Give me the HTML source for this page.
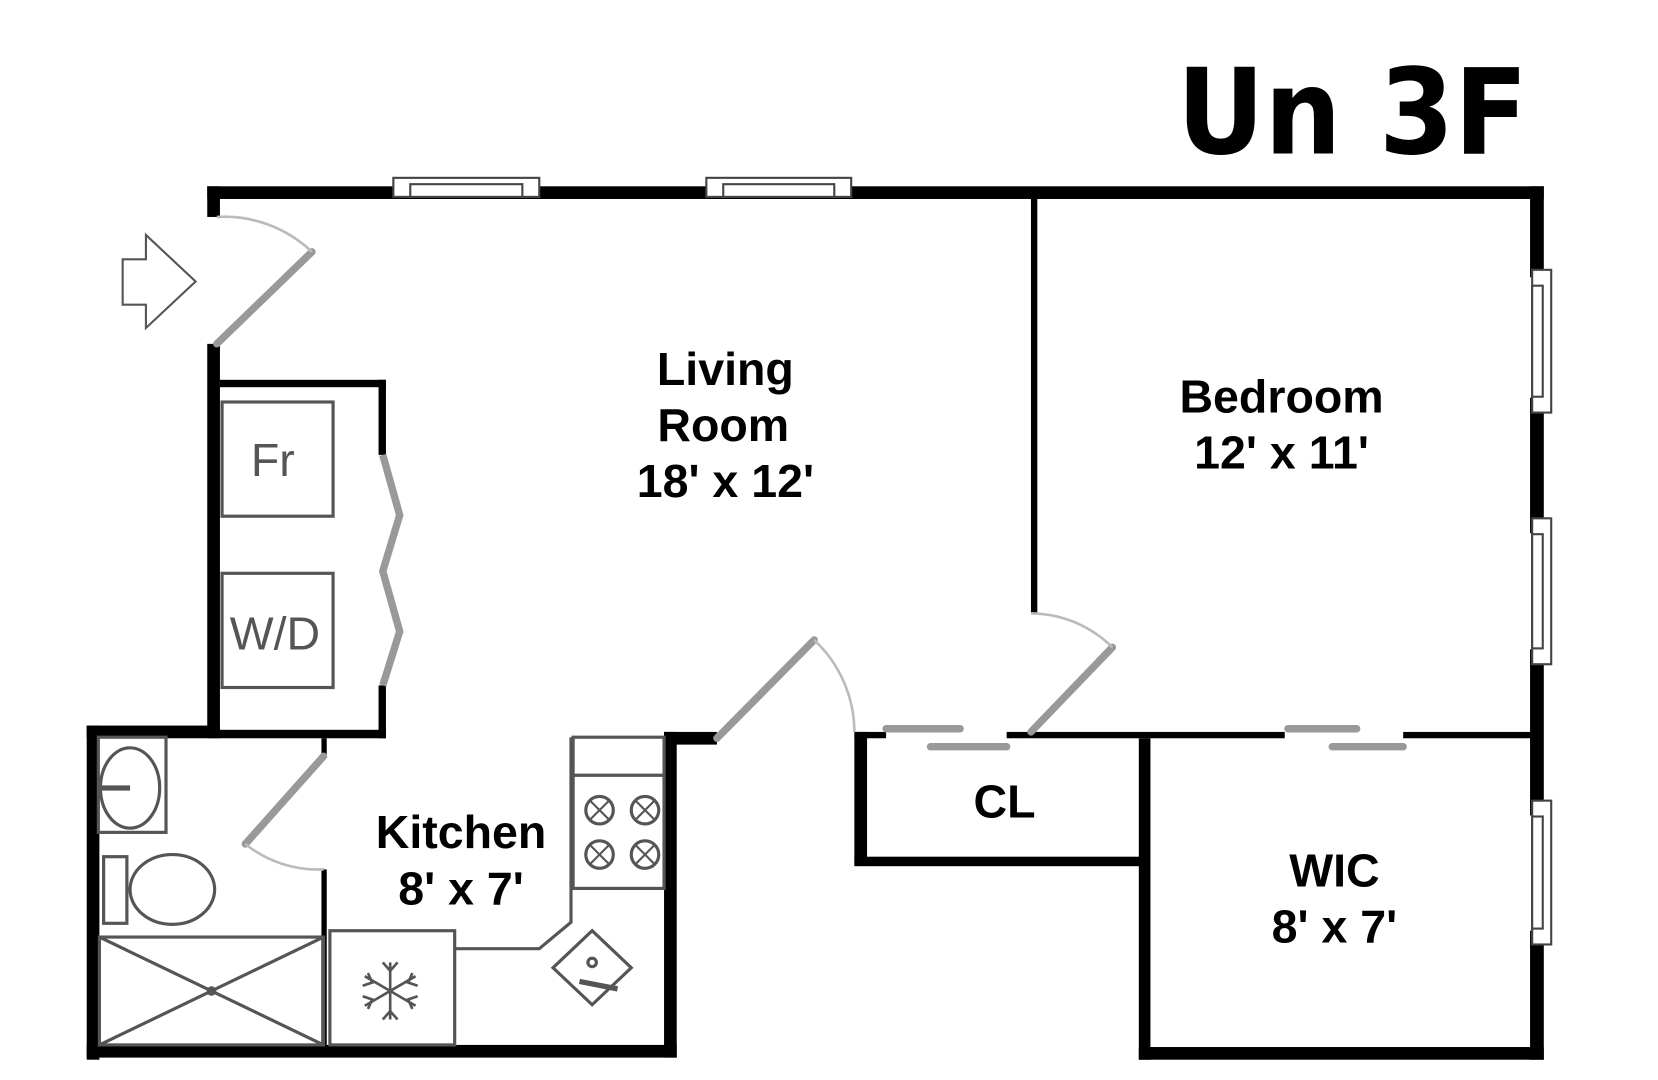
<!DOCTYPE html>
<html><head><meta charset="utf-8"><style>html,body{margin:0;padding:0;background:#fff;}svg{display:block}</style></head>
<body>
<svg width="1658" height="1080" viewBox="0 0 1568 1021" xmlns="http://www.w3.org/2000/svg">
<rect width="1568" height="1021" fill="#fff"/>
<text x="1113" y="145" font-family="DejaVu Sans, Liberation Sans, sans-serif" font-weight="bold" font-size="112" textLength="332" lengthAdjust="spacingAndGlyphs">Un 3F</text>
<g fill="#000">
<rect x="196" y="176" width="1264" height="12"/>
<rect x="196" y="176" width="12" height="29"/>
<rect x="196" y="325" width="12" height="373"/>
<rect x="208" y="359" width="157" height="7"/>
<rect x="358" y="359" width="7" height="71"/>
<rect x="358" y="648" width="7" height="50"/>
<rect x="82" y="686" width="126" height="12"/>
<rect x="208" y="690" width="157" height="8"/>
<rect x="82" y="686" width="12" height="316"/>
<rect x="82" y="988" width="558" height="12"/>
<rect x="304" y="698" width="5" height="18"/>
<rect x="304" y="822" width="5" height="168"/>
<rect x="628" y="692" width="12" height="308"/>
<rect x="628" y="692" width="50" height="12"/>
<rect x="808" y="692" width="12" height="126"/>
<rect x="808" y="692" width="30" height="6"/>
<rect x="952" y="692" width="23" height="6"/>
<rect x="975" y="692" width="240" height="6"/>
<rect x="1327" y="692" width="125" height="6"/>
<rect x="808" y="810" width="277" height="9"/>
<rect x="1077" y="698" width="11" height="304"/>
<rect x="1077" y="990" width="383" height="12"/>
<rect x="975" y="188" width="6" height="392"/>
<rect x="1447" y="176" width="13" height="86"/>
<rect x="1447" y="376" width="13" height="128"/>
<rect x="1447" y="614" width="13" height="157"/>
<rect x="1447" y="880" width="13" height="122"/>
</g>
<g fill="#fff" stroke="#444" stroke-width="2">
<rect x="372" y="168" width="138" height="18"/>
<rect x="388" y="174" width="106" height="12"/>
<rect x="668" y="168" width="137" height="18"/>
<rect x="684" y="174" width="105" height="12"/>
<rect x="1449" y="255" width="18" height="135"/>
<rect x="1449" y="270" width="10" height="105"/>
<rect x="1449" y="490" width="18" height="138"/>
<rect x="1449" y="505" width="10" height="108"/>
<rect x="1449" y="757" width="18" height="136"/>
<rect x="1449" y="772" width="10" height="106"/>
</g>
<g fill="none" stroke="#999" stroke-width="7" stroke-linecap="round">
<line x1="205" y1="325" x2="295" y2="238"/>
<polyline points="362,430 378,487 362,540 378,597 362,648" stroke-linecap="butt"/>
<line x1="306" y1="715" x2="232" y2="798"/>
<line x1="678" y1="698" x2="770" y2="605"/>
<line x1="975" y1="692" x2="1052" y2="612"/>
<line x1="838" y1="689" x2="908" y2="689"/>
<line x1="880" y1="706" x2="952" y2="706"/>
<line x1="1218" y1="689" x2="1283" y2="689"/>
<line x1="1260" y1="706" x2="1327" y2="706"/>
</g>
<g fill="none" stroke="#bbb" stroke-width="2.5">
<path d="M205,205 A120,120 0 0 1 295,238"/>
<path d="M232,798 A110,110 0 0 0 306,822"/>
<path d="M770,605 A120,120 0 0 1 808,692"/>
<path d="M1052,612 A110,110 0 0 0 975,580"/>
</g>
<polygon points="116,245 138,245 138,222 185,266 138,310 138,288 116,288" fill="#fff" stroke="#555" stroke-width="2"/>
<g fill="none" stroke="#555" stroke-width="3">
<rect x="210" y="380" width="105" height="108"/>
<rect x="210" y="542" width="105" height="108"/>
<rect x="93" y="697" width="64" height="90"/>
<ellipse cx="123" cy="745" rx="28" ry="38"/>
<rect x="98" y="810" width="22" height="63"/>
<ellipse cx="163" cy="841" rx="40" ry="33"/>
<rect x="94" y="886" width="212" height="102"/>
<line x1="94" y1="886" x2="306" y2="988"/><line x1="306" y1="886" x2="94" y2="988"/>
<circle cx="200" cy="937" r="3"/>
<rect x="312" y="880" width="118" height="108"/>
<polyline points="430,897 510,897 540,872 540,697"/>
<rect x="542" y="697" width="86" height="143"/>
<line x1="542" y1="733" x2="628" y2="733"/>
<circle cx="567" cy="766" r="13"/><circle cx="610" cy="766" r="13"/>
<circle cx="567" cy="808" r="13"/><circle cx="610" cy="808" r="13"/>
<path d="M558,757 l18,18 M576,757 l-18,18 M601,757 l18,18 M619,757 l-18,18 M558,799 l18,18 M576,799 l-18,18 M601,799 l18,18 M619,799 l-18,18" stroke-width="2"/>
<polygon points="560,880 597,915 560,950 523,915"/>
<circle cx="560" cy="910" r="4"/>
<line x1="548" y1="928" x2="584" y2="935" stroke-width="5"/>
<line x1="96" y1="745" x2="123" y2="745" stroke-width="5"/>
<g stroke-width="2.5">
<line x1="369" y1="910" x2="369" y2="964"/><line x1="345" y1="923" x2="393" y2="951"/><line x1="393" y1="923" x2="345" y2="951"/>
<path d="M362,910 l7,8 l7,-8 M362,964 l7,-8 l7,8 M343,932 l9,-3 l-4,-9 M395,942 l-9,3 l4,9 M343,942 l9,3 l-4,9 M395,932 l-9,-3 l4,-9"/>
</g>
</g>
<g font-family="Liberation Sans, Arial, sans-serif" font-weight="bold" font-size="44" text-anchor="middle" fill="#000">
<text x="686" y="364">Living</text>
<text x="684" y="417">Room</text>
<text x="686" y="470">18' x 12'</text>
<text x="1212" y="390">Bedroom</text>
<text x="1212" y="443">12' x 11'</text>
<text x="436" y="802">Kitchen</text>
<text x="436" y="855">8' x 7'</text>
<text x="950" y="773">CL</text>
<text x="1262" y="838">WIC</text>
<text x="1262" y="891">8' x 7'</text>
</g>
<g font-family="Liberation Sans, Arial, sans-serif" font-size="44" text-anchor="middle" fill="#555">
<text x="258" y="450">Fr</text>
<text x="260" y="614">W/D</text>
</g>
</svg>
</body></html>
